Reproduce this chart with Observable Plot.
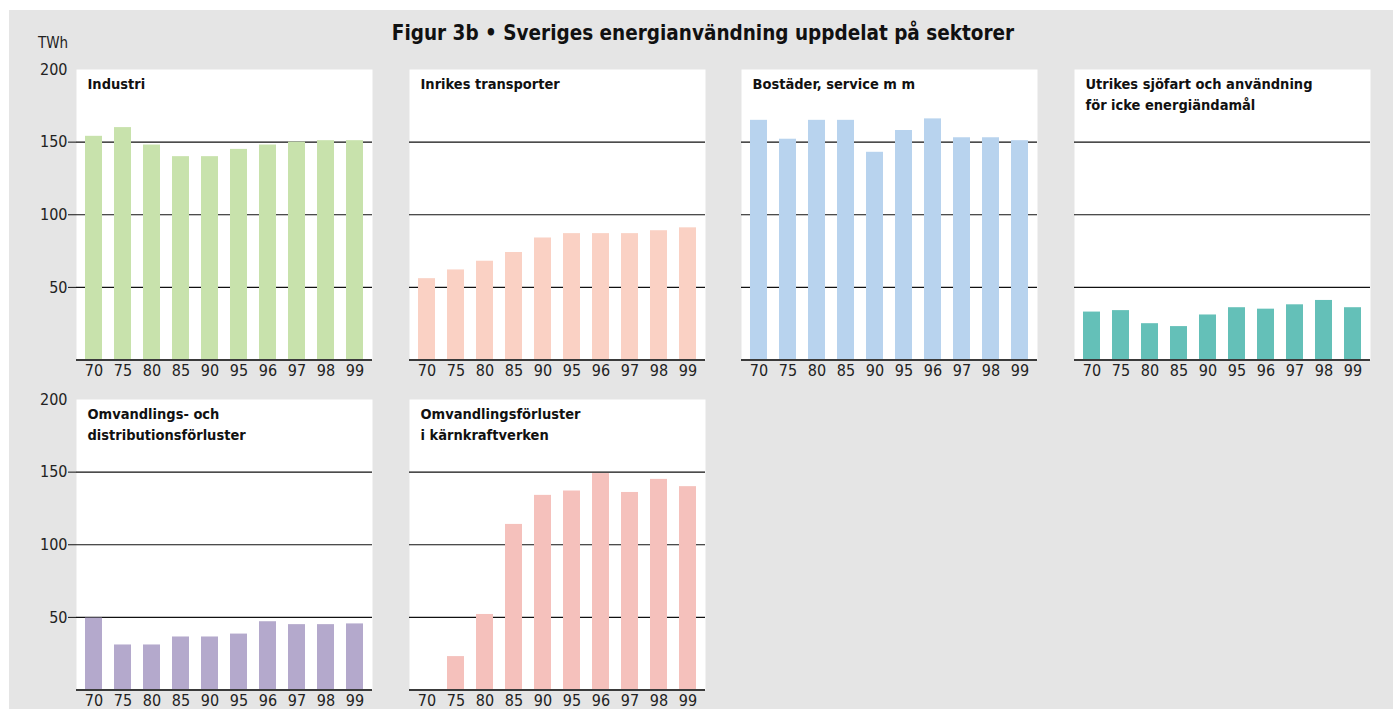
<!DOCTYPE html>
<html>
<head>
<meta charset="utf-8">
<script src="https://cdn.jsdelivr.net/npm/d3@7"></script>
<script src="https://cdn.jsdelivr.net/npm/@observablehq/plot@0.6"></script>
<style>
  html, body { margin: 0; padding: 0; background: #ffffff; }
  #root { position: relative; width: 1393px; height: 709px; overflow: hidden; font-family: "DejaVu Sans Condensed", sans-serif; }
  #bg { position: absolute; left: 9px; top: 10px; right: 0; bottom: 0; background: #e5e5e5; }
  #title { position: absolute; left: 0; width: 1406px; top: 21px; text-align: center; font-size: 20.5px; font-weight: bold; color: #111; }
  #unit { position: absolute; left: 38px; top: 34px; font-size: 15px; color: #222; }
  .panel { position: absolute; }
  .panel svg { overflow: visible; }
</style>
</head>
<body>
<div id="root">
  <div id="bg"></div>
  <div id="title">Figur 3b • Sveriges energianvändning uppdelat på sektorer</div>
  <div id="unit">TWh</div>
</div>
<script>
// ---- data ----
const years = ["70", "75", "80", "85", "90", "95", "96", "97", "98", "99"];
const industri   = [154, 160, 148, 140, 140, 145, 148, 150, 151, 151];
const transport  = [56, 62, 68, 74, 84, 87, 87, 87, 89, 91];
const bostader   = [165, 152, 165, 165, 143, 158, 166, 153, 153, 151];
const utrikes    = [33, 34, 25, 23, 31, 36, 35, 38, 41, 36];
const omvandling = [49.5, 31, 31, 36.5, 36.5, 38.5, 47, 45, 45, 45.5];
const karnkraft  = [0, 23, 52, 114, 134, 137, 149, 136, 145, 140];
const yTicks = [50, 100, 150];
const yTop = 200;

const panels = [
  {title: "Industri", values: industri, color: "#c8e2ac", col: 0, row: 0},
  {title: "Inrikes transporter", values: transport, color: "#fad1c4", col: 1, row: 0},
  {title: "Bostäder, service m m", values: bostader, color: "#b8d3ee", col: 2, row: 0},
  {title: "Utrikes sjöfart och användning\nför icke energiändamål", values: utrikes, color: "#64c0b8", col: 3, row: 0},
  {title: "Omvandlings- och\ndistributionsförluster", values: omvandling, color: "#b4a9cc", col: 0, row: 1},
  {title: "Omvandlingsförluster\ni kärnkraftverken", values: karnkraft, color: "#f5c1bc", col: 1, row: 1}
];

// ---- layout ----
const colLeft = [76, 409, 741, 1074];
const rowTop = [69, 399];
const innerW = 296, innerH = 290.5;
const mL = 44, mT = 14, mB = 30;

const root = document.getElementById("root");
for (const p of panels) {
  const data = years.map((y, i) => ({year: y, value: p.values[i]}));
  const left = p.col === 0;
  const chart = Plot.plot({
    width: innerW + mL,
    height: innerH + mT + mB,
    marginLeft: mL, marginRight: 0, marginTop: mT, marginBottom: mB,
    style: {background: "transparent", fontFamily: "'DejaVu Sans Condensed', sans-serif", fontSize: "16px", color: "#222"},
    x: {domain: years, paddingInner: 0.42, paddingOuter: 0.24, label: null, axis: null},
    y: {domain: [0, yTop], label: null, axis: null},
    marks: [
      Plot.frame({fill: "white", stroke: null}),
      Plot.ruleY(yTicks, {stroke: "#111", strokeWidth: 1.2}),
      Plot.barY(data, {x: "year", y: "value", fill: p.color}),
      Plot.ruleY([0], {stroke: "#3a3a3a", strokeWidth: 2}),
      Plot.axisX({tickSize: 0, tickPadding: 5, fontSize: 16, label: null}),
      left ? Plot.axisY({ticks: yTicks, tickSize: 8, tickPadding: 1, fontSize: 16, stroke: "#111", label: null}) : null,
      left ? Plot.axisY({ticks: [yTop], tickSize: 0, tickPadding: 9, fontSize: 16, label: null}) : null,
      Plot.text([p.title], {frameAnchor: "top-left", dx: 11, dy: 5, fontSize: 14.5, fontWeight: "bold", fill: "#111", lineHeight: 1.45, textAnchor: "start"})
    ]
  });
  const wrap = document.createElement("div");
  wrap.className = "panel";
  wrap.style.left = (colLeft[p.col] - mL) + "px";
  wrap.style.top = (rowTop[p.row] - mT) + "px";
  wrap.appendChild(chart);
  root.appendChild(wrap);
}
</script>
</body>
</html>
